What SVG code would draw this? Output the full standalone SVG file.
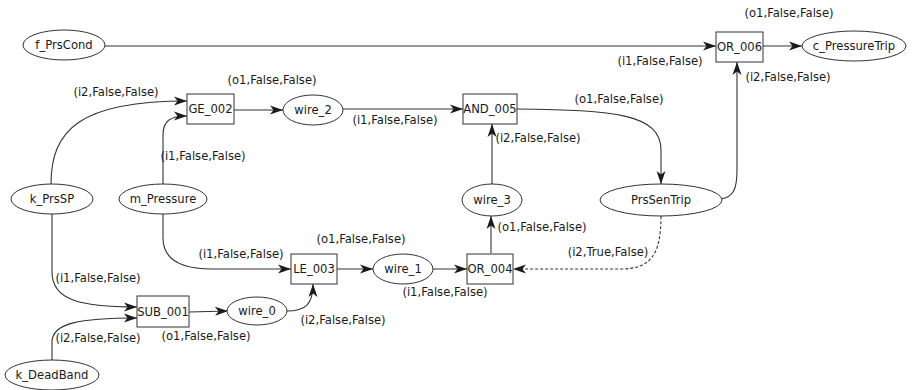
<svg xmlns="http://www.w3.org/2000/svg" width="912" height="390" viewBox="0 0 912 390">
  <style>
    text { font-family: "DejaVu Sans", "Liberation Sans", sans-serif; font-size: 11.6px; fill: #1a1a1a; text-anchor: middle; }
    .node ellipse, .node rect { fill: #ffffff; stroke: #333333; stroke-width: 1; }
    .edge { fill: none; stroke: #333333; stroke-width: 1.1; marker-end: url(#arrow); }
    .dashed { stroke-dasharray: 3 2; }
  </style>
  <defs>
    <marker id="arrow" markerUnits="userSpaceOnUse" markerWidth="14" markerHeight="10" refX="13" refY="5" orient="auto">
      <path d="M0,0.5 L13,5 L0,9.5 L3.5,5 Z" fill="#1a1a1a"/>
    </marker>
  </defs>
  <rect width="912" height="390" fill="#ffffff"/>

  <!-- connectors -->
  <g id="edges">
    <path class="edge" d="M105,46 L716,46"/>
    <path class="edge" d="M763,46 L802,46"/>
    <path class="edge" d="M51,184 C51,130 80,101 187,101"/>
    <path class="edge" d="M163,184 L163,135 C163,121 170,116 187,116"/>
    <path class="edge" d="M234,110 L283,110"/>
    <path class="edge" d="M343,109 L463,109"/>
    <path class="edge" d="M492,185 L492,124"/>
    <path class="edge" d="M517,109 C615,110 661,114 661,150 L661,184"/>
    <path class="edge" d="M721,199 C733,197 737,190 737,170 L737,62"/>
    <path class="edge" d="M491,253 L491,216"/>
    <path class="edge" d="M433,269 L467,269"/>
    <path class="edge" d="M337,269 L373,269"/>
    <path class="edge" d="M163,214 L163,238 C163,262 185,269 212,269 L291,269"/>
    <path class="edge" d="M287,311 C305,311 313,305 313,284"/>
    <path class="edge" d="M189,312 L228,311"/>
    <path class="edge" d="M52,214 L52,272 C52,300 80,307 137,307"/>
    <path class="edge" d="M52,360 L52,342 C52,323 80,318 137,318"/>
    <path class="edge dashed" d="M661,216 C661,256 650,269 620,269 L513,269"/>
  </g>

  <!-- edge labels -->
  <g id="labels">
    <text x="789" y="17">(o1,False,False)</text>
    <text x="660" y="65">(i1,False,False)</text>
    <text x="788" y="81">(i2,False,False)</text>
    <text x="619" y="103">(o1,False,False)</text>
    <text x="538" y="142">(i2,False,False)</text>
    <text x="395" y="124">(i1,False,False)</text>
    <text x="272" y="84">(o1,False,False)</text>
    <text x="116" y="96">(i2,False,False)</text>
    <text x="203" y="160">(i1,False,False)</text>
    <text x="241" y="258">(i1,False,False)</text>
    <text x="361" y="243">(o1,False,False)</text>
    <text x="445" y="296">(i1,False,False)</text>
    <text x="542" y="231">(o1,False,False)</text>
    <text x="608" y="256">(i2,True,False)</text>
    <text x="343" y="324">(i2,False,False)</text>
    <text x="98" y="282">(i1,False,False)</text>
    <text x="98" y="342">(i2,False,False)</text>
    <text x="206" y="340">(o1,False,False)</text>
  </g>

  <!-- nodes -->
  <g id="f_PrsCond" class="node"><ellipse cx="64" cy="45" rx="41" ry="15"/><text x="64" y="49">f_PrsCond</text></g>
  <g id="OR_006" class="node"><rect x="716" y="32" width="47" height="30"/><text x="739.5" y="51">OR_006</text></g>
  <g id="c_PressureTrip" class="node"><ellipse cx="854" cy="46" rx="52" ry="15"/><text x="854" y="50">c_PressureTrip</text></g>
  <g id="GE_002" class="node"><rect x="187" y="94" width="47" height="30"/><text x="210.5" y="113">GE_002</text></g>
  <g id="wire_2" class="node"><ellipse cx="313" cy="110" rx="30" ry="15"/><text x="313" y="114">wire_2</text></g>
  <g id="AND_005" class="node"><rect x="463" y="94" width="54" height="30"/><text x="490" y="113">AND_005</text></g>
  <g id="k_PrsSP" class="node"><ellipse cx="52" cy="199" rx="41" ry="15"/><text x="52" y="203">k_PrsSP</text></g>
  <g id="m_Pressure" class="node"><ellipse cx="163" cy="199" rx="44" ry="15"/><text x="163" y="203">m_Pressure</text></g>
  <g id="wire_3" class="node"><ellipse cx="492" cy="200" rx="30" ry="16"/><text x="492" y="204">wire_3</text></g>
  <g id="PrsSenTrip" class="node"><ellipse cx="661" cy="200" rx="61" ry="16"/><text x="661" y="204">PrsSenTrip</text></g>
  <g id="LE_003" class="node"><rect x="291" y="254" width="46" height="30"/><text x="314" y="273">LE_003</text></g>
  <g id="wire_1" class="node"><ellipse cx="403" cy="269" rx="30" ry="15"/><text x="403" y="273">wire_1</text></g>
  <g id="OR_004" class="node"><rect x="467" y="254" width="46" height="30"/><text x="490" y="273">OR_004</text></g>
  <g id="SUB_001" class="node"><rect x="137" y="296" width="52" height="31"/><text x="163" y="316">SUB_001</text></g>
  <g id="wire_0" class="node"><ellipse cx="257" cy="311" rx="30" ry="14"/><text x="257" y="315">wire_0</text></g>
  <g id="k_DeadBand" class="node"><ellipse cx="52" cy="375" rx="47" ry="15"/><text x="52" y="379">k_DeadBand</text></g>
</svg>
